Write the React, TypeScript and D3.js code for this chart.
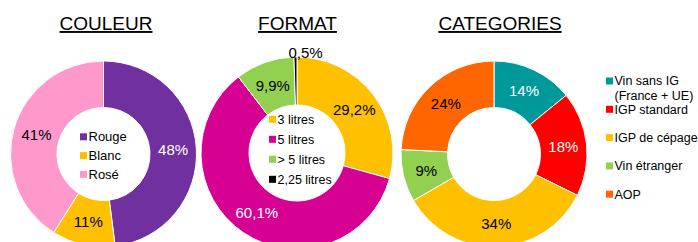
import React from "react";
import * as d3 from "d3";

// --- data ---
const couleurLabels = ["Rouge", "Blanc", "Rosé"];
const couleurValues = [48, 11, 41];
const couleurColors = ["#7030A0", "#FFC000", "#FF99CC"];
const couleurTextColors = ["#fff", "#000", "#000"];

const formatLabels = ["3 litres", "5 litres", "> 5 litres", "2,25 litres"];
const formatValues = [29.2, 60.1, 9.9, 0.5];
const formatColors = ["#FFC000", "#D60093", "#92D050", "#000000"];
const formatTextColors = ["#000", "#fff", "#000", "#000"];

const categLabels = [["Vin sans IG", "(France + UE)"], ["IGP standard"], ["IGP de cépage"], ["Vin étranger"], ["AOP"]];
const categValues = [14, 18, 34, 9, 24];
const categColors = ["#009999", "#FF0000", "#FFC000", "#92D050", "#FF6600"];
const categTextColors = ["#fff", "#fff", "#000", "#000", "#000"];

const titles = ["COULEUR", "FORMAT", "CATEGORIES"];

const FONT = "'Liberation Sans', Arial, sans-serif";
const W = 698;
const H = 242;

const fmtPct = (v: number) => String(v).replace(".", ",") + "%";

type DonutProps = {
  values: number[];
  colors: string[];
  textColors: string[];
  cx: number;
  cy: number;
  r: number;
  title: string;
  titleX: number;
};

const Donut = ({ values, colors, textColors, cx, cy, r, title, titleX }: DonutProps) => {
  const pie = d3.pie<number>().sort(null).value(d => d);
  const arcs = pie(values);
  const inner = r * 0.5;
  const arc = d3.arc<d3.PieArcDatum<number>>().innerRadius(inner).outerRadius(r);
  const labelArc = d3.arc<d3.PieArcDatum<number>>().innerRadius((inner + r) / 2).outerRadius((inner + r) / 2);

  return (
    <g>
      <text
        x={titleX}
        y={30}
        textAnchor="middle"
        fontSize={19}
        fontFamily={FONT}
        style={{ textDecoration: "underline" }}
      >
        {title}
      </text>
      <g transform={`translate(${cx},${cy})`}>
        {arcs.map((a, i) => (
          <path key={i} d={arc(a) || ""} fill={colors[i]} stroke="#fff" strokeWidth={1} />
        ))}
        {arcs.map((a, i) => {
          // tiny slices get their label outside, above the ring
          const small = a.endAngle - a.startAngle < 0.1;
          const [lx, ly] = small ? [8.5, -r + 1] : labelArc.centroid(a);
          return (
            <text
              key={i}
              x={lx}
              y={ly}
              dy={small ? 0 : "0.36em"}
              textAnchor="middle"
              fontSize={15}
              fontFamily={FONT}
              fill={textColors[i]}
            >
              {fmtPct(values[i])}
            </text>
          );
        })}
      </g>
    </g>
  );
};

type LegendProps = {
  labels: string[][];
  colors: string[];
  x: number;
  y: number;
  step: number;
  fontSize: number;
};

const Legend = ({ labels, colors, x, y, step, fontSize }: LegendProps) => (
  <g>
    {labels.map((lines, i) => (
      <g key={i} transform={`translate(${x},${y + i * step})`}>
        <rect x={0} y={-3.5} width={7} height={7} fill={colors[i]} />
        {lines.map((t, j) => (
          <text key={j} x={8.5} y={j * 14.7} dy="0.35em" fontSize={fontSize} fontFamily={FONT} fill="#000">
            {t}
          </text>
        ))}
      </g>
    ))}
  </g>
);

export default function App() {
  return (
    <svg
      width={W}
      height={H}
      style={{ position: "absolute", left: 0, top: 0, background: "#fff", overflow: "hidden" }}
    >
      <rect width={W} height={H} fill="#fff" />
      <Donut values={couleurValues} colors={couleurColors} textColors={couleurTextColors}
        cx={103.5} cy={154} r={93} title={titles[0]} titleX={106} />
      <Legend labels={couleurLabels.map(d => [d])} colors={couleurColors} x={80} y={136.8} step={18.8} fontSize={13} />

      <Donut values={formatValues} colors={formatColors} textColors={formatTextColors}
        cx={297} cy={153} r={96} title={titles[1]} titleX={297.5} />
      <Legend labels={formatLabels.map(d => [d])} colors={formatColors} x={269} y={119.3} step={20} fontSize={12.5} />

      <Donut values={categValues} colors={categColors} textColors={categTextColors}
        cx={494} cy={154} r={93} title={titles[2]} titleX={500} />
      <Legend labels={categLabels} colors={categColors} x={606} y={81} step={28.3} fontSize={12.5} />
    </svg>
  );
}
